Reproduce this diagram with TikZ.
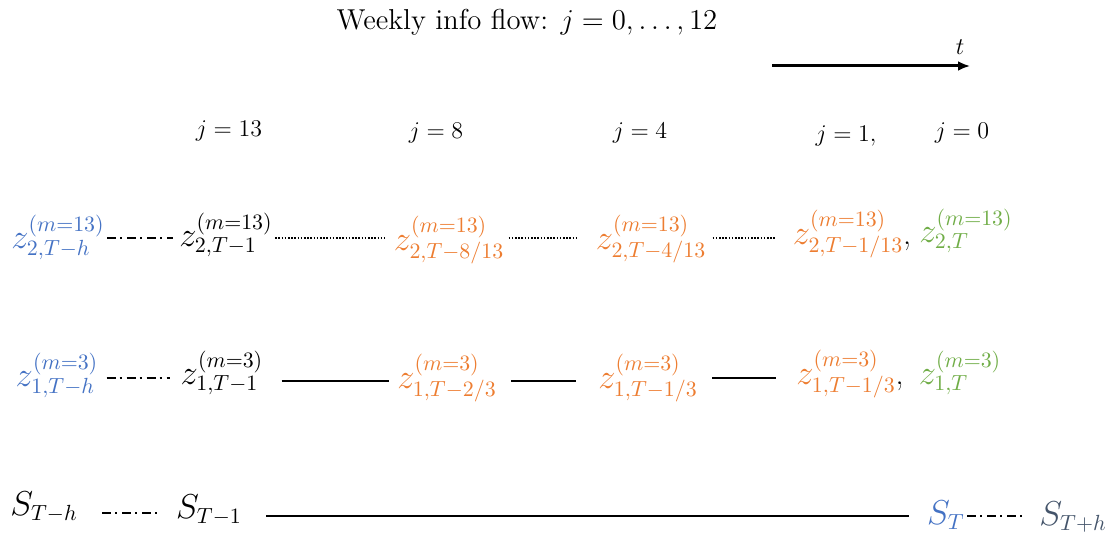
\documentclass[tikz,border=0pt]{standalone}
\usetikzlibrary{arrows.meta}
\definecolor{zblue}{HTML}{4472C4}
\definecolor{zorange}{HTML}{ED7D31}
\definecolor{zgreen}{HTML}{70AD47}
\definecolor{zslate}{HTML}{44546A}
\begin{document}
\begin{tikzpicture}[x=0.5pt,y=-0.5pt,
  mnode/.style={inner sep=1pt,font=\fontsize{16}{19}\selectfont},
  jnode/.style={inner sep=1pt,font=\fontsize{12.5}{15}\selectfont},
  dashdotline/.style={line width=1pt,dash pattern=on 4.5pt off 2pt on 1pt off 2.5pt},
  dotline/.style={line width=1.1pt,dash pattern=on 0.8pt off 0.8pt},
  solidline/.style={line width=1.2pt}]
\useasboundingbox (0,0) rectangle (1110,535);
% title
\node[inner sep=0pt,font=\fontsize{14.4}{17}\selectfont] (title) at (527,22) {Weekly info flow: $j=0,\ldots,12$};
% time arrow
\coordinate (t0) at (772,66);
\coordinate (t1) at (970,66);
\draw[line width=1.5pt,-{Latex[length=6pt,width=5pt]}] (t0) -- (t1);
\node[jnode] (tlab) at (960,47) {$t$};
% j labels
\node[jnode] (j13) at (229,131) {$j=13$};
\node[jnode] (j8) at (436,133) {$j=8$};
\node[jnode] (j4) at (640,133) {$j=4$};
\node[jnode] (j1) at (846,136) {$j=1,$};
\node[jnode] (j0) at (962,133) {$j=0$};
% row levels
\coordinate (r2) at (0,238);
\coordinate (r1a) at (0,378);
\coordinate (r1b) at (0,381);
\coordinate (r0a) at (0,513);
\coordinate (r0b) at (0,516);
% row z_2
\node[mnode,text=zblue] (a1) at (58,237) {$z^{(m=13)}_{2,T-h}$};
\node[mnode] (a2) at (226,235) {$z^{(m=13)}_{2,T-1}$};
\node[mnode,text=zorange] (a3) at (449,240) {$z^{(m=13)}_{2,T-8/13}$};
\node[mnode,text=zorange] (a4) at (651,239) {$z^{(m=13)}_{2,T-4/13}$};
\node[mnode,text=zorange] (a5) at (852,234) {$z^{(m=13)}_{2,T-1/13}$\textcolor{black}{,}};
\node[mnode,text=zgreen] (a6) at (966,231) {$z^{(m=13)}_{2,T}$};
\draw[dashdotline,shorten >=2pt] (a1.east |- r2) -- (a2.west |- r2);
\draw[dotline,shorten >=3pt] (a2.east |- r2) -- (a3.west |- r2);
\draw[dotline,shorten <=1pt,shorten >=8pt] (a3.east |- r2) -- (a4.west |- r2);
\draw[dotline,shorten <=2pt,shorten >=7pt] (a4.east |- r2) -- (a5.west |- r2);
% row z_1
\node[mnode,text=zblue] (b1) at (57,375) {$z^{(m=3)}_{1,T-h}$};
\node[mnode] (b2) at (222,373) {$z^{(m=3)}_{1,T-1}$};
\node[mnode,text=zorange] (b3) at (447,378) {$z^{(m=3)}_{1,T-2/3}$};
\node[mnode,text=zorange] (b4) at (648,378) {$z^{(m=3)}_{1,T-1/3}$};
\node[mnode,text=zorange] (b5) at (850,374) {$z^{(m=3)}_{1,T-1/3}$\textcolor{black}{,}};
\node[mnode,text=zgreen] (b6) at (960,373) {$z^{(m=3)}_{1,T}$};
\draw[dashdotline,shorten <=3pt,shorten >=4pt] (b1.east |- r1a) -- (b2.west |- r1a);
\draw[solidline,shorten <=8pt,shorten >=3pt] (b2.east |- r1b) -- (b3.west |- r1b);
\draw[solidline,shorten <=6pt,shorten >=10pt] (b3.east |- r1b) -- (b4.west |- r1b);
\draw[solidline,shorten <=6pt,shorten >=9pt] (b4.east |- r1a) -- (b5.west |- r1a);
% row S
\node[mnode] (s1) at (44,507) {$S_{T-h}$};
\node[mnode] (s2) at (209,510) {$S_{T-1}$};
\node[mnode,text=zblue] (s3) at (946,515) {$S_{T}$};
\node[mnode,text=zslate] (s4) at (1073,517) {$S_{T+h}$};
\draw[dashdotline,shorten <=11pt,shorten >=8pt] (s1.east |- r0a) -- (s2.west |- r0a);
\draw[solidline,shorten <=11pt,shorten >=8pt] (s2.east |- r0b) -- (s3.west |- r0b);
\draw[dashdotline,shorten >=5pt] (s3.east |- r0b) -- (s4.west |- r0b);
\end{tikzpicture}
\end{document}
